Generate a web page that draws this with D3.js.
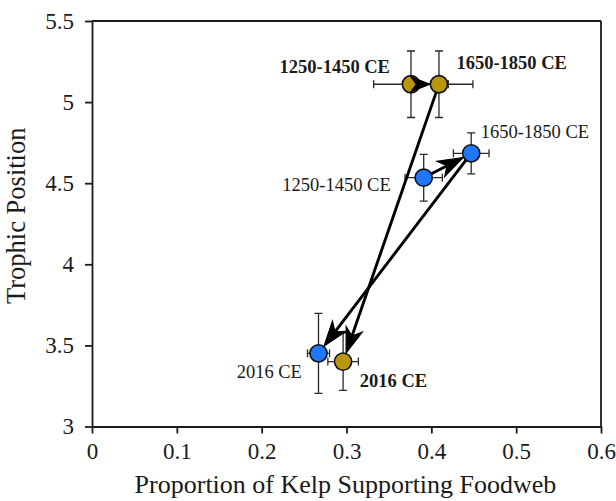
<!DOCTYPE html>
<html>
<head>
<meta charset="utf-8">
<script src="https://cdn.jsdelivr.net/npm/d3@7"></script>
<style>
  html, body { margin: 0; padding: 0; background: #fff; }
  svg { display: block; }
  text { font-family: "Palatino Linotype", "Book Antiqua", Palatino, "Liberation Serif", serif; fill: #1a1a1a; }
</style>
</head>
<body>
<svg id="chart" width="616" height="501"></svg>
<script>
// ---- data ----
const periods = ["1250-1450 CE", "1650-1850 CE", "2016 CE"];
// gold series (bold labels)
const goldX    = [0.376, 0.409, 0.296];
const goldY    = [5.110, 5.110, 3.400];
const goldXErr = [0.044, 0.040, 0.018];
const goldYErr = [0.205, 0.205, 0.177];
// blue series (regular labels)
const blueX    = [0.391, 0.447, 0.267];
const blueY    = [4.534, 4.684, 3.451];
const blueXErr = [0.022, 0.021, 0.013];
const blueYErr = [0.144, 0.126, 0.247];
const xTicks = [0, 0.1, 0.2, 0.3, 0.4, 0.5, 0.6];
const yTicks = [3, 3.5, 4, 4.5, 5, 5.5];
const xTitle = "Proportion of Kelp Supporting Foodweb";
const yTitle = "Trophic Position";

(function () {
// ---- layout ----
const svg = d3.select("#chart");
const pL = 92, pR = 601, pT = 21, pB = 426.5;
const x = d3.scaleLinear().domain([0, 0.6]).range([pL, pR]);
const y = d3.scaleLinear().domain([3, 5.5]).range([pB, pT]);
const ink = "#1a1a1a";
const GOLD = "#b8960e", BLUE = "#1f77fb";
const R = 8.6;
const FONT = '"Palatino Linotype", "Book Antiqua", Palatino, "Liberation Serif", serif';

// axes
const gx = svg.append("g").attr("transform", `translate(0,${pB})`)
  .call(d3.axisBottom(x).tickValues(xTicks).tickFormat(d => String(d)).tickSize(7).tickSizeOuter(0).tickPadding(9));
const gy = svg.append("g").attr("transform", `translate(${pL},0)`)
  .call(d3.axisLeft(y).tickValues(yTicks).tickFormat(d => String(d)).tickSize(7).tickSizeOuter(0).tickPadding(11));
[gx, gy].forEach(g => {
  g.selectAll("path, line").attr("stroke", ink).attr("stroke-width", 1.8);
  g.selectAll("text").attr("font-size", 23).attr("fill", ink).style("font-family", FONT);
});
// frame top and right
svg.append("line").attr("x1", pL).attr("x2", pR).attr("y1", pT).attr("y2", pT)
  .attr("stroke", ink).attr("stroke-width", 1.8);
svg.append("line").attr("x1", pR).attr("x2", pR).attr("y1", pT).attr("y2", pB)
  .attr("stroke", ink).attr("stroke-width", 1.8);

// titles
svg.append("text").attr("x", (pL + pR) / 2 - 1).attr("y", 493)
  .attr("text-anchor", "middle").attr("font-size", 26).text(xTitle);
svg.append("text").attr("transform", `translate(25,${(pT + pB) / 2 - 8}) rotate(-90)`)
  .attr("text-anchor", "middle").attr("font-size", 26.5).text(yTitle);

function series(xs, ys, xe, ye) {
  return xs.map((v, i) => ({ x: v, y: ys[i], xe: xe[i], ye: ye[i], label: periods[i] }));
}
const gold = series(goldX, goldY, goldXErr, goldYErr);
const blue = series(blueX, blueY, blueXErr, blueYErr);

// error bars
const eb = svg.append("g").attr("stroke", "#2a2a2a").attr("stroke-width", 1.3).attr("fill", "none");
const cap = 4;
[...gold, ...blue].forEach(d => {
  const cx = x(d.x), cy = y(d.y);
  const y1 = y(d.y + d.ye), y2 = y(d.y - d.ye), x1 = x(d.x - d.xe), x2 = x(d.x + d.xe);
  eb.append("path").attr("d",
    `M${cx},${y1}V${y2}M${cx - cap},${y1}H${cx + cap}M${cx - cap},${y2}H${cx + cap}` +
    `M${x1},${cy}H${x2}M${x1},${cy - cap}V${cy + cap}M${x2},${cy - cap}V${cy + cap}`);
});

// points
function drawPts(data, color) {
  svg.append("g").selectAll("circle").data(data).join("circle")
    .attr("cx", d => x(d.x)).attr("cy", d => y(d.y)).attr("r", R)
    .attr("fill", color).attr("stroke", "#111").attr("stroke-width", 1.6);
}
drawPts(gold, GOLD);
drawPts(blue, BLUE);

// arrows (start edge -> end edge, stealth heads)
const ag = svg.append("g");
function arrow(a, b) {
  const ax = x(a.x), ay = y(a.y), bx = x(b.x), by = y(b.y);
  const dx = bx - ax, dy = by - ay, len = Math.hypot(dx, dy);
  const ux = dx / len, uy = dy / len, px = -uy, py = ux;
  const sx = ax + ux * R, sy = ay + uy * R;
  const tip = R + 0.5;
  const tx = bx - ux * tip, ty = by - uy * tip;
  const L = Math.min(25, len - tip), W = 8.5 * L / 25 + (L < 25 ? 1 : 0), N = L * 0.72;
  const bxp = tx - ux * L, byp = ty - uy * L;
  const nx = tx - ux * N, ny = ty - uy * N;
  if (len - tip > L + 0.5) {
    ag.append("line").attr("x1", sx).attr("y1", sy).attr("x2", nx).attr("y2", ny)
      .attr("stroke", "#000").attr("stroke-width", 2.9);
  }
  ag.append("path").attr("d",
    `M${tx},${ty}L${bxp + px * W},${byp + py * W}L${nx},${ny}L${bxp - px * W},${byp - py * W}Z`)
    .attr("fill", "#000").attr("stroke", "#000").attr("stroke-width", 1.2).attr("stroke-linejoin", "miter");
}
arrow(gold[0], gold[1]);
arrow(gold[1], gold[2]);
arrow(blue[0], blue[1]);
arrow(blue[1], blue[2]);

// labels
const goldOff = [[-21, -11, "end"], [17.5, -15, "start"], [16.7, 25.6, "start"]];
const blueOff = [[-33, 13, "end"], [9.5, -15, "start"], [-16.6, 25, "end"]];
gold.forEach((d, i) => {
  svg.append("text").attr("x", x(d.x) + goldOff[i][0]).attr("y", y(d.y) + goldOff[i][1])
    .attr("text-anchor", goldOff[i][2]).attr("font-size", 18.5).attr("font-weight", "bold").text(d.label);
});
blue.forEach((d, i) => {
  svg.append("text").attr("x", x(d.x) + blueOff[i][0]).attr("y", y(d.y) + blueOff[i][1])
    .attr("text-anchor", blueOff[i][2]).attr("font-size", 18.5).text(d.label);
});
})();
</script>
</body>
</html>
